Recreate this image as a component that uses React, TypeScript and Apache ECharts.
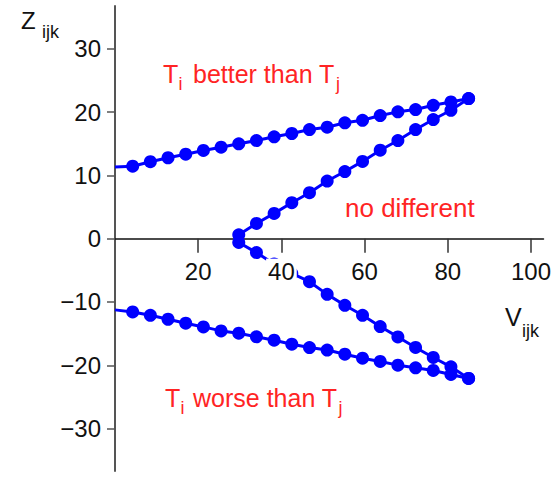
import React, { useEffect, useRef } from "react";
import * as echarts from "echarts";

// V values shared by the two outer lines
const V_OUTER = [0, 4.25, 8.5, 12.75, 17, 21.25, 25.5, 29.75, 34, 38.25, 42.5, 46.75, 51, 55.25, 59.5, 63.75, 68, 72.25, 76.5, 80.75, 85];
// "Ti better than Tj" boundary
const Z_BETTER = [11.3, 11.45, 12.15, 12.78, 13.34, 13.93, 14.45, 14.98, 15.5, 16.09, 16.61, 17.24, 17.6, 18.3, 18.7, 19.45, 20.03, 20.39, 21.07, 21.6, 22.13];
// "Ti worse than Tj" boundary
const Z_WORSE = [-11.25, -11.58, -12.1, -12.73, -13.36, -13.94, -14.57, -14.94, -15.5, -16.04, -16.67, -17.2, -17.6, -18.25, -18.88, -19.4, -19.98, -20.4, -20.82, -21.45, -22.08];
// "no different" curve
const V_MIDDLE = [85, 80.75, 76.5, 72.25, 68, 63.75, 59.5, 55.25, 51, 46.75, 42.5, 38.25, 34, 29.75, 29.75, 34, 38.25, 42.5, 46.75, 51, 55.25, 59.5, 63.75, 68, 72.25, 76.5, 80.75, 85];
const Z_MIDDLE = [22.13, 20.28, 18.82, 17.24, 15.5, 13.97, 12.2, 10.6, 9.1, 7.26, 5.68, 3.99, 2.4, 0.6, -0.6, -2.2, -4.0, -5.5, -6.8, -8.8, -10.52, -12.1, -13.88, -15.52, -17.19, -18.77, -20.25, -22.08];

const X_TICKS = [20, 40, 60, 80, 100];
const Y_TICKS = [-30, -20, -10, 0, 10, 20, 30];

const FONT = "'Liberation Sans', Arial, sans-serif";
const BLUE = "#0000ff";
const RED = "#ff2424";

const Y_MIN = -36.7;
const Y_MAX = 36.75;
const GRID_TOP = 6;
const GRID_H = 465;

export default function App() {
  const ref = useRef<HTMLDivElement>(null);
  useEffect(() => {
    if (!ref.current) return;
    const chart = echarts.init(ref.current, null, { renderer: "svg" });

    const outerPoint = (v: number, z: number, i: number) =>
      i === 0 ? { value: [v, z], symbol: "none" } : { value: [v, z] };

    const lineCommon = {
      type: "line",
      symbol: "circle",
      symbolSize: 13,
      showAllSymbol: true,
      itemStyle: { color: BLUE },
      lineStyle: { color: BLUE, width: 3 },
      z: 2,
    };

    const txt = (text: string, x: number, y: number, size: number, fill: string) => ({
      type: "text",
      x,
      y,
      z: 10,
      style: {
        text,
        fontSize: size,
        fontFamily: FONT,
        fill,
        align: "left",
        textAlign: "left",
        verticalAlign: "middle",
        textVerticalAlign: "middle",
      },
    });

    // distance (px) from grid bottom up to the Z = 0 line
    const zeroOffset = -(GRID_H * (0 - Y_MIN)) / (Y_MAX - Y_MIN);

    const option: any = {
      animation: false,
      backgroundColor: "#ffffff",
      grid: { left: 115, top: GRID_TOP, width: 428.5, height: GRID_H, outerBoundsMode: "none" },
      xAxis: [
        {
          type: "value",
          min: 0,
          max: 103,
          position: "bottom",
          axisLine: { show: true, onZero: true, lineStyle: { color: "#111", width: 1.5 } },
          axisTick: { show: true, length: 14, customValues: X_TICKS, lineStyle: { color: "#333", width: 1.5 } },
          axisLabel: { show: false },
          splitLine: { show: false },
        },
        {
          type: "value",
          min: 0,
          max: 103,
          position: "bottom",
          offset: zeroOffset,
          z: 5,
          axisLine: { show: false, onZero: false },
          axisTick: { show: false },
          axisLabel: {
            show: true,
            customValues: X_TICKS,
            margin: 20,
            fontSize: 24,
            fontFamily: FONT,
            color: "#111",
            backgroundColor: "#ffffff",
            padding: [1, 2],
          },
          splitLine: { show: false },
        },
      ],
      yAxis: {
        type: "value",
        min: Y_MIN,
        max: Y_MAX,
        position: "left",
        axisLine: { show: true, onZero: false, lineStyle: { color: "#555", width: 2 } },
        axisTick: { show: true, length: 8, customValues: Y_TICKS, lineStyle: { color: "#555", width: 1.5 } },
        axisLabel: {
          show: true,
          customValues: Y_TICKS,
          margin: 14,
          fontSize: 24,
          fontFamily: FONT,
          color: "#111",
          formatter: (v: number) => (v < 0 ? "\u2212" + Math.abs(v) : String(v)),
        },
        splitLine: { show: false },
      },
      series: [
        { ...lineCommon, name: "better", data: V_OUTER.map((v, i) => outerPoint(v, Z_BETTER[i], i)) },
        { ...lineCommon, name: "worse", data: V_OUTER.map((v, i) => outerPoint(v, Z_WORSE[i], i)) },
        { ...lineCommon, name: "no different", data: V_MIDDLE.map((v, i) => [v, Z_MIDDLE[i]]) },
      ],
      graphic: [
        txt("Z", 21, 20, 24, "#111"),
        txt("ijk", 42, 32, 18, "#111"),
        txt("V", 505, 317, 25, "#111"),
        txt("ijk", 522, 331, 18, "#111"),
        txt("T", 163, 74, 25, RED),
        txt("i", 178.5, 84, 18, RED),
        txt("better than T", 193, 74, 25, RED),
        txt("j", 336, 84, 18, RED),
        txt("no different", 345, 208, 26, RED),
        txt("T", 165, 398, 25, RED),
        txt("i", 180.5, 408, 18, RED),
        txt("worse than T", 193, 398, 25, RED),
        txt("j", 338.5, 408, 18, RED),
      ],
    };
    chart.setOption(option);
    return () => chart.dispose();
  }, []);
  return (
    <div
      ref={ref}
      style={{ position: "absolute", left: 0, top: 0, width: 552, height: 479, background: "#fff" }}
    />
  );
}
